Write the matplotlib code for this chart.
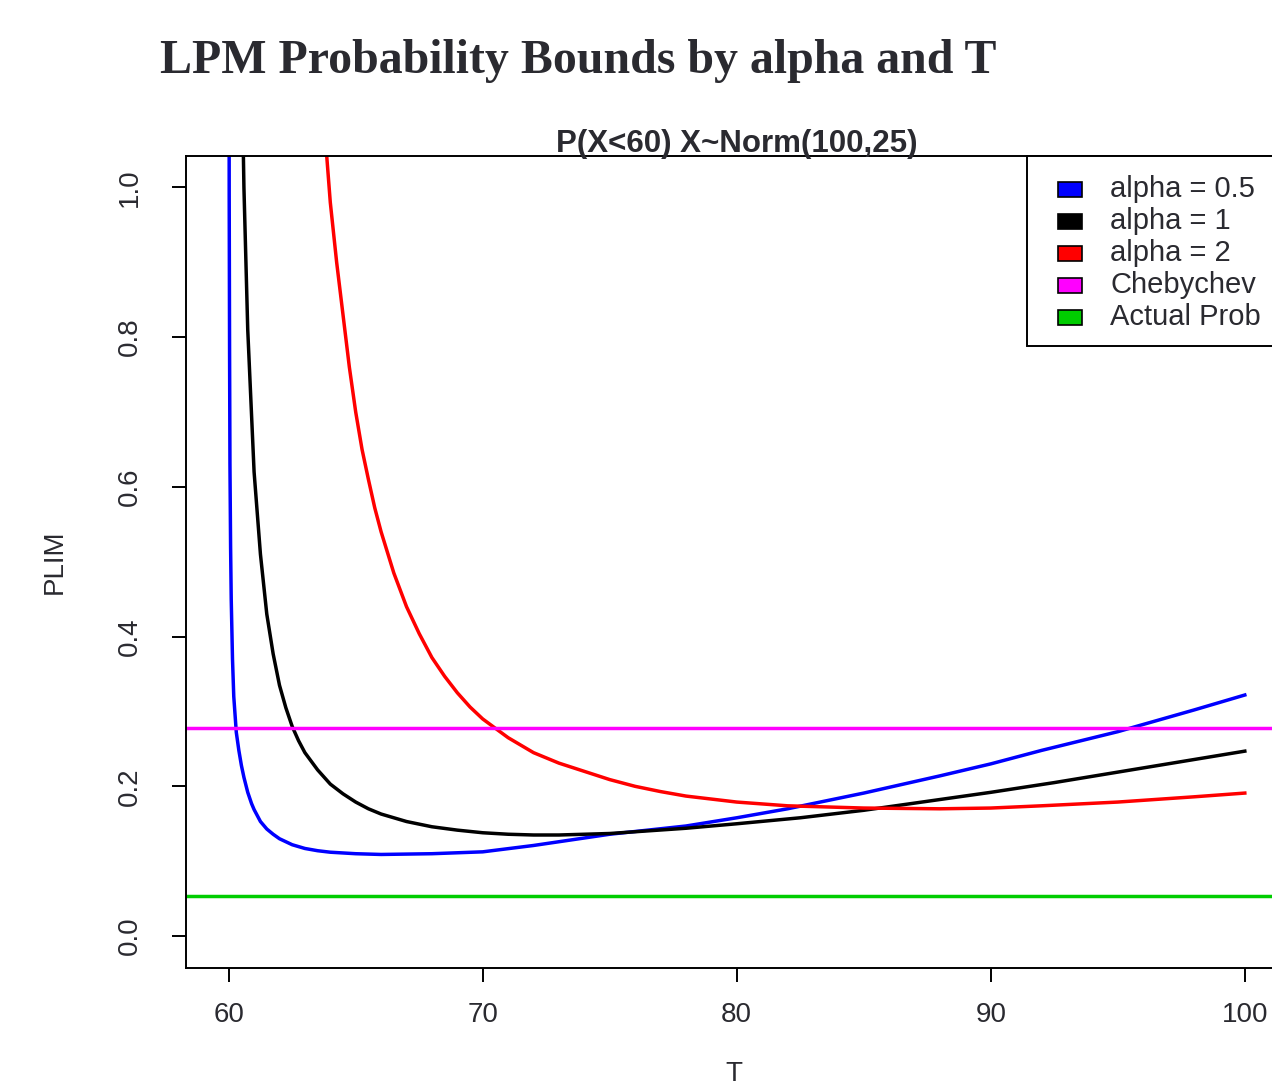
import matplotlib.pyplot as plt
from matplotlib.patches import Rectangle

# values
t_a05 = [60.01, 60.02, 60.035, 60.05, 60.075, 60.1, 60.15, 60.2, 60.3, 60.4, 60.5, 60.6, 60.75, 60.9,
         61, 61.25, 61.5, 61.75, 62, 62.5, 63, 63.5, 64, 65, 66, 67, 68, 70, 72, 75, 78, 80, 82, 85,
         88, 90, 92, 95, 98, 100]
plim_a05 = [1.40, 0.99, 0.78, 0.63, 0.52, 0.45, 0.37, 0.32, 0.272, 0.248, 0.228, 0.212, 0.192, 0.177,
            0.169, 0.153, 0.143, 0.136, 0.130, 0.122, 0.117, 0.114, 0.112, 0.110, 0.109, 0.1095, 0.110, 0.1125, 0.121, 0.136, 0.147, 0.158, 0.170, 0.191,
            0.214, 0.230, 0.248, 0.273, 0.302, 0.322]

t_a1 = [60.5, 60.6, 60.75, 61, 61.25, 61.5, 61.75, 62, 62.25, 62.5, 62.75, 63, 63.5, 64, 64.5, 65,
        65.5, 66, 67, 68, 69, 70, 71, 72, 73, 74, 75, 78, 80, 82.5, 85, 87.5, 90, 92.5, 95, 97.5, 100]
plim_a1 = [1.20, 1.00, 0.81, 0.62, 0.51, 0.43, 0.377, 0.335, 0.305, 0.28, 0.261, 0.245, 0.222, 0.203, 0.190, 0.179,
           0.170, 0.163, 0.153, 0.146, 0.1415, 0.138, 0.136, 0.135, 0.135, 0.136, 0.137, 0.144, 0.150, 0.158, 0.168, 0.180, 0.192, 0.205, 0.219, 0.233, 0.247]

t_a2 = [63.5, 64, 64.25, 64.5, 64.75, 65, 65.25, 65.5, 65.75, 66, 66.5, 67, 67.5, 68, 68.5, 69, 69.5,
        70, 71, 72, 73, 74, 75, 76, 77, 78, 79, 80, 82, 85, 88, 90, 92, 95, 98, 100]
plim_a2 = [1.20, 0.98, 0.90, 0.83, 0.76, 0.70, 0.65, 0.61, 0.572, 0.54, 0.485, 0.44, 0.404, 0.372, 0.347, 0.325, 0.306,
           0.29, 0.265, 0.245, 0.231, 0.220, 0.209, 0.200, 0.193, 0.187, 0.183, 0.179, 0.174, 0.171, 0.170, 0.171, 0.174, 0.179, 0.186, 0.191]

chebychev = 0.278
actual_prob = 0.053

legend_labels = ['alpha = 0.5', 'alpha = 1', 'alpha = 2', 'Chebychev', 'Actual Prob']
legend_colors = ['#0000FF', '#000000', '#FF0000', '#FF00FF', '#00CD00']

plt.rcParams['font.family'] = ['Liberation Sans', 'DejaVu Sans']
txt_col = '#2a2a30'

W, H = 1272, 1088
fig = plt.figure(figsize=(W / 100, H / 100), dpi=100)

# plot region in pixels (right edge runs past the picture, as in the reference)
ax_l, ax_r, ax_t, ax_b = 185.5, 1288.0, 156.0, 967.5
ax = fig.add_axes([ax_l / W, 1 - ax_b / H, (ax_r - ax_l) / W, (ax_b - ax_t) / H])

lw = 2.5
ax.plot(t_a05, plim_a05, color=legend_colors[0], lw=lw)
ax.plot(t_a1, plim_a1, color=legend_colors[1], lw=lw)
ax.plot(t_a2, plim_a2, color=legend_colors[2], lw=lw)
ax.axhline(chebychev, color=legend_colors[3], lw=lw)
ax.axhline(actual_prob, color=legend_colors[4], lw=lw)

ax.set_xlim(58.3, 101.7)
ax.set_ylim(-0.042, 1.042)
ax.set_xticks([60, 70, 80, 90, 100])
ax.set_yticks([0.0, 0.2, 0.4, 0.6, 0.8, 1.0])
ax.set_yticklabels([f'{v:.1f}' for v in ax.get_yticks()], rotation=90, va='center')
ax.tick_params(direction='out', length=10, width=1.4, labelsize=20, labelcolor=txt_col)
ax.tick_params(axis='x', pad=14.5)
ax.tick_params(axis='y', pad=21)
for s in ax.spines.values():
    s.set_linewidth(1.4)

ax.annotate('P(X<60) X~Norm(100,25)', xy=(0.5, 1), xycoords='axes fraction',
            xytext=(0, 3.2), textcoords='offset points', ha='center', va='baseline',
            fontsize=22.5, fontweight='bold', color=txt_col, annotation_clip=False)

fig.text(160 / W, 1 - 73 / H, 'LPM Probability Bounds by alpha and T', family='Liberation Serif',
         fontweight='bold', fontsize=34.5, color=txt_col, va='baseline')
fig.text(55 / W, 1 - 562 / H, 'PLIM', rotation=90, ha='center', va='center', fontsize=20, color=txt_col)
fig.text(734 / W, 1 - 1081 / H, 'T', ha='center', va='baseline', fontsize=20, color=txt_col)


# R style legend box, drawn by hand
def frac(px, py):
    return (px - ax_l) / (ax_r - ax_l), (ax_b - py) / (ax_b - ax_t)


x0, y0 = frac(1027, 346)
ax.add_patch(Rectangle((x0, y0), 1 - x0, 1 - y0, transform=ax.transAxes, facecolor='white',
                       edgecolor='black', lw=1.4, clip_on=False, zorder=5))
for i, (lab, col) in enumerate(zip(legend_labels, legend_colors)):
    yc = 189 + 32 * i
    sx0, sy0 = frac(1058, yc + 7.5)
    sx1, sy1 = frac(1082, yc - 7.5)
    ax.add_patch(Rectangle((sx0, sy0), sx1 - sx0, sy1 - sy0, transform=ax.transAxes,
                           facecolor=col, edgecolor='black', lw=1.2, clip_on=False, zorder=6))
    tx, ty = frac(1110, yc)
    ax.text(tx, ty, lab, transform=ax.transAxes, va='center', ha='left', fontsize=21,
            color=txt_col, zorder=7, clip_on=False)

fig.savefig('out.png', dpi=100)
